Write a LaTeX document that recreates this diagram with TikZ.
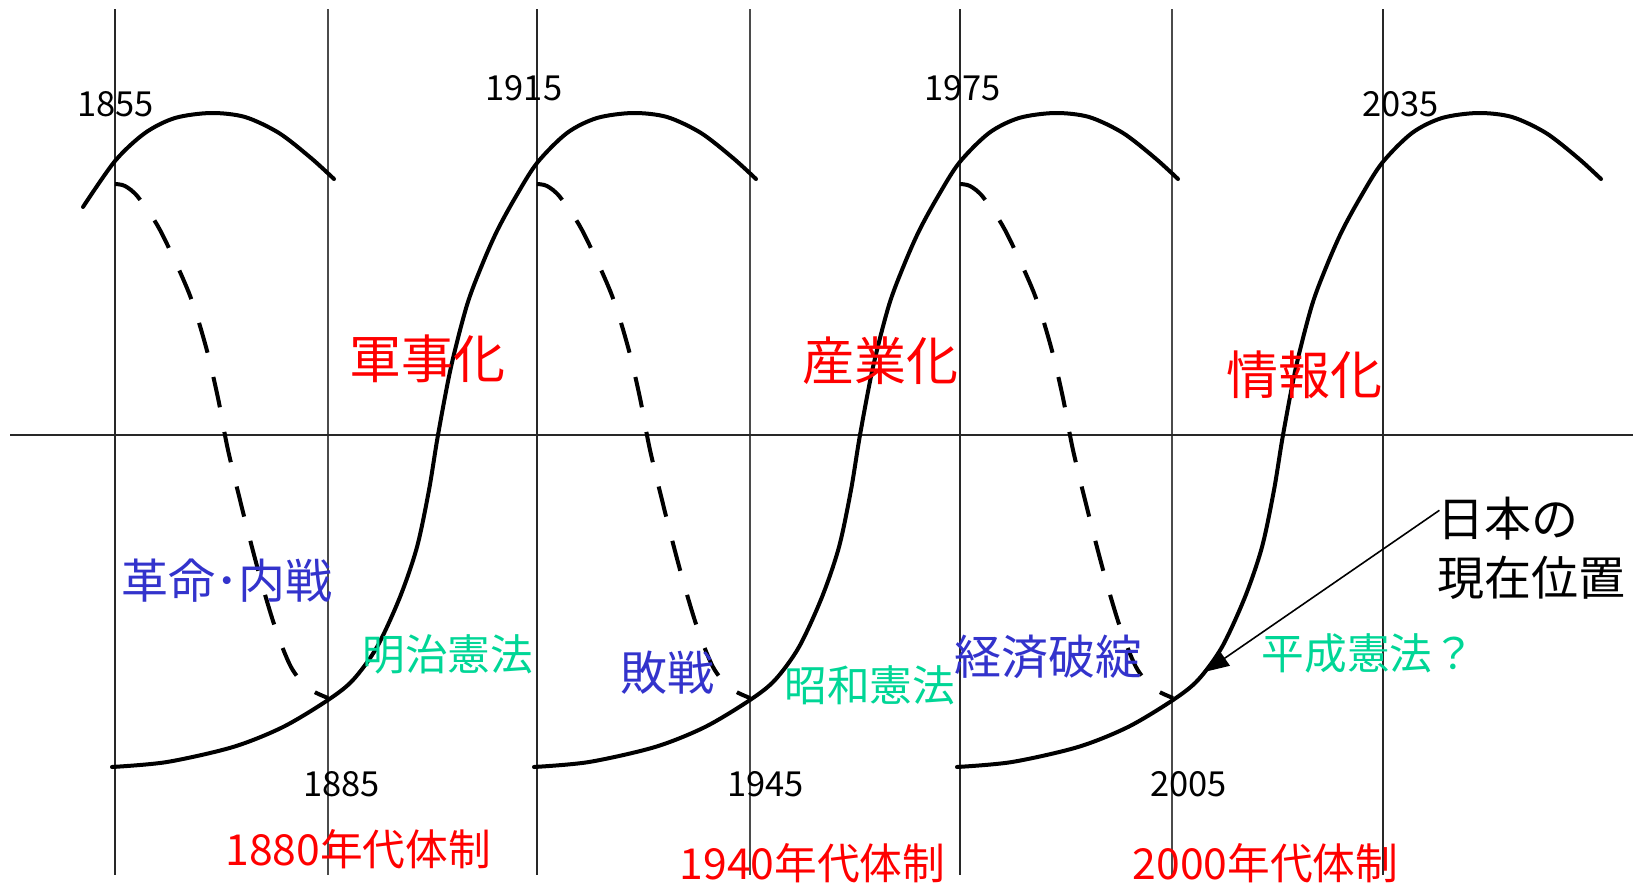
\documentclass[tikz,border=0pt]{standalone}
\usepackage{fontspec}
\newfontfamily\jp{Noto Sans CJK JP}
\usetikzlibrary{arrows.meta}
\definecolor{cred}{RGB}{255,0,0}
\definecolor{cblue}{RGB}{51,51,204}
\definecolor{cgreen}{RGB}{0,214,150}
\definecolor{gridc}{RGB}{40,40,40}
\definecolor{gridm}{RGB}{75,75,75}
\tikzset{
  gridline/.style={draw=gridc, line width=2.3pt},
  gridmid/.style={draw=gridm, line width=2.6pt},
  axisline/.style={draw=gridc, line width=2.6pt},
  curve/.style={draw=black, line width=4pt, line cap=round},
  dcurve/.style={draw=black, line width=4pt, dash pattern=on 31pt off 25pt},
  year/.style={font=\jp\fontsize{34.5}{38}\selectfont, inner sep=0pt, text=black},
  phase/.style={font=\jp\fontsize{52}{58}\selectfont, inner sep=0pt, text=cred},
  event/.style={font=\jp\fontsize{47}{52}\selectfont, inner sep=0pt, text=cblue},
  law/.style={font=\jp\fontsize{42.7}{48}\selectfont, inner sep=0pt, text=cgreen},
  regime/.style={font=\jp\fontsize{42.7}{48}\selectfont, inner sep=0pt, text=cred},
  note/.style={font=\jp\fontsize{47}{59}\selectfont, inner sep=0pt, align=left, text=black},
  pointer/.style={draw=black, line width=1.6pt, -{Triangle[length=24pt,width=18pt]}},
}
\begin{document}
\begin{tikzpicture}[x=1pt, y=-1pt]
\fill[white] (0,0) rectangle (1633,884);
\useasboundingbox (0,0) rectangle (1633,884);
% grid
\foreach \x in {115,537,960,1383} \draw[gridline] (\x,9) -- (\x,875);
\foreach \x in {328,750,1172} \draw[gridmid] (\x,9) -- (\x,875);
\draw[axisline] (10,435) -- (1633,435);
% lead-in arch
\draw[curve] plot[smooth] coordinates {(83,207) (115,161) (145,133) (175,118) (211,113) (245,117) (279,133) (311,158) (334,179)};
% S curves rising into the next arch, and dashed declines
\foreach \o in {115,537,960} {
  \draw[curve, shift={(\o,0)}] plot[smooth] coordinates {(-3,767) (52,762) (118,747) (168,727) (213,700) (238,680) (262,647) (285,597) (302,547) (314,490) (323,435) (336,367) (352,305) (367,265) (382,231) (400,198) (422,163) (452,133) (482,118) (518,113) (552,117) (586,133) (618,158) (641,179)};
  \draw[dcurve, shift={(\o,0)}] plot[smooth] coordinates {(0,184) (10,186) (23,197) (45,230) (74,293) (91,347) (103,398) (113,450) (130,520) (145,577) (160,627) (176,667) (193,688) (213,698)};
}
% years
\node[year] (y1855) at (115.6,104.5) {1855};
\node[year] (y1915) at (523.9,88.5) {1915};
\node[year] (y1975) at (962.3,88.5) {1975};
\node[year] (y2035) at (1400.8,104.5) {2035};
\node[year] (y1885) at (341.6,784.2) {1885};
\node[year] (y1945) at (765.5,784.2) {1945};
\node[year] (y2005) at (1188.4,784.2) {2005};
% phases
\node[phase] (p1) at (427,359.3) {軍事化};
\node[phase] (p2) at (880,360.4) {産業化};
\node[phase] (p3) at (1304,375) {情報化};
% events
\node[event] (e1) at (227,581) {革命･内戦};
\node[event] (e2) at (667.6,672.8) {敗戦};
\node[event] (e3) at (1048.8,657.2) {経済破綻};
% constitutions
\node[law] (l1) at (447.8,654) {明治憲法};
\node[law] (l2) at (869.7,685.3) {昭和憲法};
\node[law] (l3) at (1368.5,653) {平成憲法？};
% regimes
\node[regime] (r1) at (358.3,848.8) {1880年代体制};
\node[regime] (r2) at (812.4,863.4) {1940年代体制};
\node[regime] (r3) at (1265.4,863.4) {2000年代体制};
% current position
\node[note, anchor=north west] (jp) at (1437.3,496.8) {日本の\\現在位置};
\coordinate (pstart) at (1439.4,510.3);
\coordinate (ptip) at (1205,671.8);
\draw[pointer] (pstart) -- (ptip);
\end{tikzpicture}
\end{document}
